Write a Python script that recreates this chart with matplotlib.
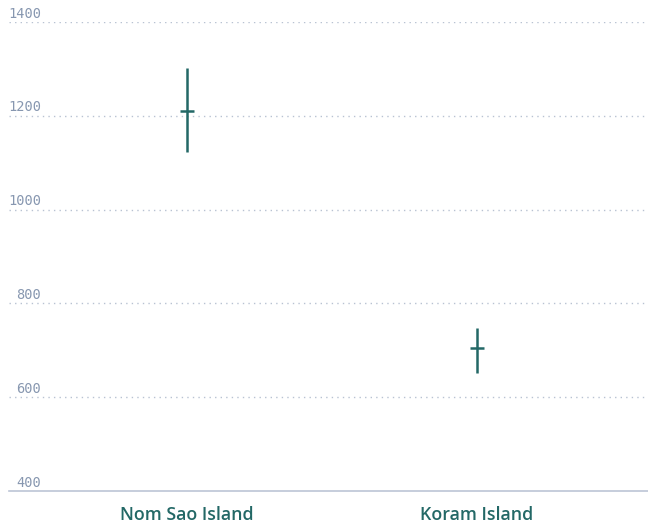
import matplotlib.pyplot as plt
import matplotlib.transforms as mtransforms

islands = ["Nom Sao Island", "Koram Island"]
means = [1210, 705]
upper = [1302, 748]
lower = [1123, 652]
yticks = [400, 600, 800, 1000, 1200, 1400]

teal = "#236866"
tick_color = "#8797b0"
grid_color = "#b8c2d2"

fig = plt.figure(figsize=(6.48, 5.25), dpi=100)
ax = fig.add_axes([9 / 648, 34 / 525, 639 / 648, 469 / 525])

xs = list(range(len(islands)))
err_lo = [m - lo for m, lo in zip(means, lower)]
err_hi = [hi - m for m, hi in zip(means, upper)]
ax.errorbar(xs, means, yerr=[err_lo, err_hi], fmt="_", color=teal,
            ecolor=teal, elinewidth=1.8, markersize=10, markeredgewidth=1.8,
            capsize=0, zorder=3)

ax.set_xlim(-0.614, 1.59)
ax.set_ylim(400, 1400)

# dotted gridlines, solid baseline
for t in yticks[1:]:
    ax.axhline(t, color=grid_color, lw=1, ls=(0, (1, 3)), zorder=1)
for s in ["top", "right", "left"]:
    ax.spines[s].set_visible(False)
ax.spines["bottom"].set_color("#bcc5d6")
ax.spines["bottom"].set_linewidth(1.2)

ax.set_yticks([])
trans = mtransforms.blended_transform_factory(ax.transAxes, ax.transData)
for t in yticks:
    ax.annotate(str(t), xy=(0.05, t), xycoords=trans, xytext=(0, 1),
                textcoords="offset points", ha="right", va="bottom",
                fontsize=9.8, family="DejaVu Sans Mono", color=tick_color)

ax.set_xticks(xs)
ax.set_xticklabels(islands, fontsize=12.8, fontweight="semibold",
                   family="Open Sans", color=teal)
ax.tick_params(axis="x", length=0, pad=11)

fig.savefig("out.png", dpi=100)
